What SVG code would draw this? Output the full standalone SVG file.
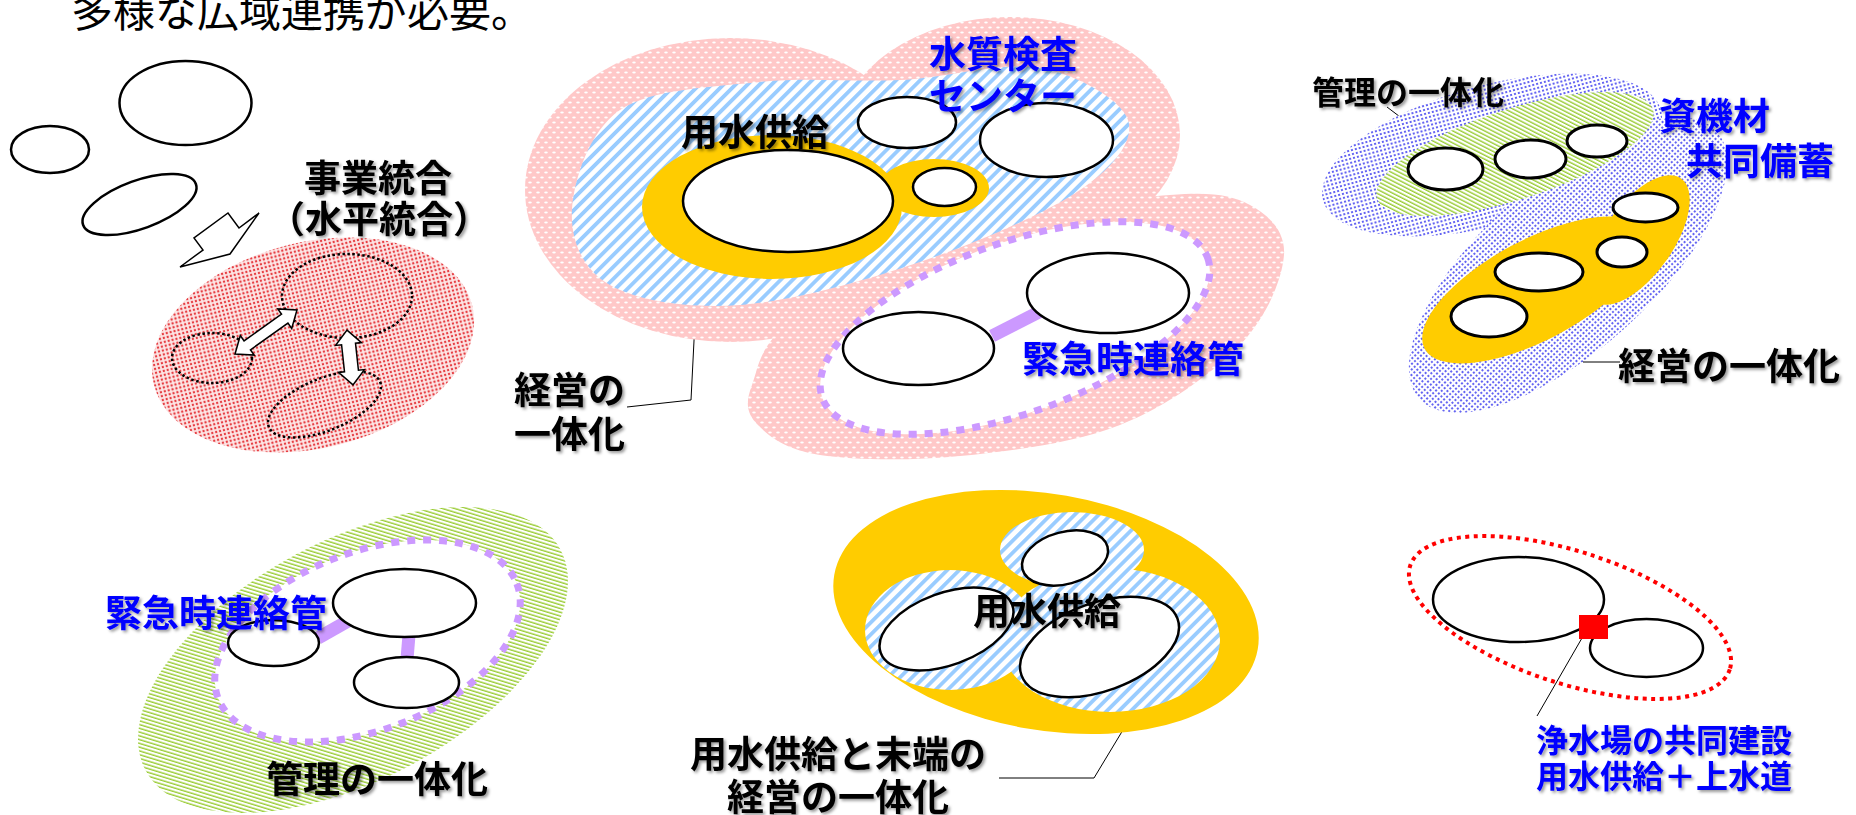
<svg xmlns="http://www.w3.org/2000/svg" width="1856" height="815" viewBox="0 0 1856 815">
<defs>
<pattern id="pink" width="8" height="10" patternUnits="userSpaceOnUse"><rect width="8" height="10" fill="#ffc8c8"/><ellipse cx="2" cy="2.5" rx="1.8" ry="0.9" fill="#fff"/><ellipse cx="6" cy="7.5" rx="1.8" ry="0.9" fill="#fff"/></pattern>
<pattern id="bstripe" width="8.5" height="8.5" patternUnits="userSpaceOnUse" patternTransform="rotate(45)"><rect width="8.5" height="8.5" fill="#fff"/><rect width="3.8" height="8.5" fill="#99ccff"/></pattern>
<pattern id="gstripe" width="3.6" height="3.6" patternUnits="userSpaceOnUse" patternTransform="rotate(-45)"><rect width="3.6" height="3.6" fill="#fff"/><rect width="1.4" height="3.6" fill="#99cc33"/></pattern>
<pattern id="rdot" width="4" height="4" patternUnits="userSpaceOnUse"><rect width="4" height="4" fill="#fde6e6"/><circle cx="2" cy="2" r="1.2" fill="#e63a3f"/></pattern>
<pattern id="bdot" width="4" height="4" patternUnits="userSpaceOnUse"><rect width="4" height="4" fill="#fff"/><circle cx="2" cy="2" r="1.05" fill="#3b3bef"/></pattern>
<filter id="sh" x="-5%" y="-15%" width="115%" height="140%"><feDropShadow dx="2" dy="2" stdDeviation="1.5" flood-color="#000" flood-opacity="0.4"/></filter>
<style>
.e{fill:#fff;stroke:#000;stroke-width:2.5}
.e3{fill:#fff;stroke:#000;stroke-width:3}
.lbl{font-family:"Noto Sans CJK JP","Noto Sans CJK SC",sans-serif;font-weight:700;font-size:37px;filter:url(#sh)}
.blk{fill:#000}
.blu{fill:#0000ff}
.lead{fill:none;stroke:#000;stroke-width:1}
.pdash{fill:#fff;stroke:#cc99ff;stroke-width:7;stroke-dasharray:8 8}
.pipe{stroke:#cc99ff;stroke-width:13}
.dot{fill:none;stroke:#000;stroke-width:2.5;stroke-dasharray:2.5 2.5}
.yel{fill:#ffcc00}
</style>
</defs>
<rect width="1856" height="815" fill="#fff"/>

<g id="title">
<text x="71" y="27" font-family="Noto Sans CJK JP, sans-serif" font-size="42" fill="#000">多様な広域連携が必要。</text>
</g>

<g id="n-separate">
<ellipse class="e" cx="185.5" cy="103" rx="66" ry="42"/>
<ellipse class="e" cx="50" cy="149.5" rx="39" ry="23.5"/>
<ellipse class="e" cx="139.5" cy="204.5" rx="60" ry="24" transform="rotate(-20 139.5 204.5)"/>
</g>

<g id="connectors">
<polygon points="180,267 203,250 194,238 228,213 239,228 259,213 230,254" fill="#fff" stroke="#000" stroke-width="1.5"/>
<polyline class="lead" points="627,407 691,400 699,242"/>
<polyline class="lead" points="1387,107 1420,132"/>
<polyline class="lead" points="1558,305 1583,362 1620,362"/>
<polyline class="lead" points="1132,715 1094,778 999,778"/>
<line class="lead" x1="1582" y1="638" x2="1537" y2="716"/>
</g>

<g id="n-merge">
<ellipse cx="313" cy="345" rx="164" ry="103" transform="rotate(-14 313 345)" fill="url(#rdot)"/>
<ellipse class="dot" cx="347" cy="296" rx="65" ry="42"/>
<ellipse class="dot" cx="212" cy="358" rx="40" ry="25"/>
<ellipse class="dot" cx="324.5" cy="404.5" rx="60" ry="26" transform="rotate(-22 324.5 404.5)"/>
<polygon points="-38,0 -23,-12 -23,-5.5 23,-5.5 23,-12 38,0 23,12 23,5.5 -23,5.5 -23,12" transform="translate(266 332) rotate(-35.4)" fill="#fff" stroke="#000" stroke-width="1.5"/>
<polygon points="-27.6,0 -13.6,-13 -13.6,-7 13.6,-7 13.6,-13 27.6,0 13.6,13 13.6,7 -13.6,7 -13.6,13" transform="translate(350 357.5) rotate(83.8)" fill="#fff" stroke="#000" stroke-width="1.5"/>
<text class="lbl blk" x="378" y="192" text-anchor="middle">事業統合</text>
<text class="lbl blk" x="379" y="233" text-anchor="middle">（水平統合）</text>
</g>

<g id="n-center">
<ellipse cx="730" cy="190" rx="205" ry="152" fill="url(#pink)"/>
<ellipse cx="1010" cy="135" rx="170" ry="118" fill="url(#pink)"/>
<path fill="url(#pink)" d="M752,385 C759,366.7 758.7,341.7 800,315 C841.3,288.3 938.3,245 1000,225 C1061.7,205 1128.3,198.3 1170,195 C1211.7,191.7 1231,195 1250,205 C1269,215 1285.7,231.7 1284,255 C1282.3,278.3 1267.3,316.7 1240,345 C1212.7,373.3 1166.7,406.5 1120,425 C1073.3,443.5 1010,451 960,456 C910,461 853.7,460.2 820,455 C786.3,449.8 769.3,436.7 758,425 C746.7,413.3 745,403.3 752,385 Z"/>
<path fill="url(#bstripe)" d="M572,210 C573.7,180.8 588.7,131.3 620,110 C651.3,88.7 713.3,87 760,82 C806.7,77 853.3,82.3 900,80 C946.7,77.7 1002,61.3 1040,68 C1078,74.7 1121.3,99.7 1128,120 C1134.7,140.3 1114.7,166.3 1080,190 C1045.3,213.7 976.7,242.8 920,262 C863.3,281.2 791.7,301.2 740,305 C688.3,308.8 638,300.8 610,285 C582,269.2 570.3,239.2 572,210 Z"/>
<ellipse class="yel" cx="772" cy="207" rx="130" ry="72"/>
<ellipse class="yel" cx="934" cy="188" rx="55" ry="29"/>
<ellipse class="pdash" cx="1015" cy="328" rx="205" ry="85" transform="rotate(-20 1015 328)"/>
<ellipse class="e" cx="788" cy="201" rx="105" ry="51"/>
<ellipse class="e" cx="944.5" cy="187" rx="31.5" ry="19"/>
<ellipse class="e" cx="907" cy="122.5" rx="49" ry="25.5"/>
<ellipse class="e" cx="1046.5" cy="140" rx="66.5" ry="37"/>
<line class="pipe" x1="992" y1="336" x2="1041" y2="311"/>
<ellipse class="e" cx="1108" cy="293" rx="81" ry="40"/>
<ellipse class="e" cx="918.5" cy="348.5" rx="75.5" ry="36.5"/>
<text class="lbl blk" x="755" y="146" text-anchor="middle">用水供給</text>
<text class="lbl blu" x="1003" y="68" text-anchor="middle">水質検査</text>
<text class="lbl blu" x="1003" y="110" text-anchor="middle">センター</text>
<text class="lbl blu" x="1133" y="373" text-anchor="middle">緊急時連絡管</text>
<text class="lbl blk" x="514" y="404">経営の</text>
<text class="lbl blk" x="514" y="448">一体化</text>
</g>

<g id="n-stock">
<ellipse cx="1492" cy="155" rx="175" ry="70" transform="rotate(-15 1492 155)" fill="url(#bdot)"/>
<ellipse cx="1568" cy="265" rx="200" ry="85" transform="rotate(-42 1568 265)" fill="url(#bdot)"/>
<ellipse cx="1515" cy="154" rx="145" ry="45" transform="rotate(-18 1515 154)" fill="url(#gstripe)"/>
<ellipse class="yel" cx="1535" cy="290" rx="125" ry="50" transform="rotate(-28 1535 290)"/>
<ellipse class="yel" cx="1638" cy="240" rx="75" ry="35" transform="rotate(-55 1638 240)"/>
<ellipse class="e3" cx="1445.5" cy="169" rx="37.5" ry="21"/>
<ellipse class="e3" cx="1530.5" cy="159" rx="35.5" ry="19"/>
<ellipse class="e3" cx="1597" cy="141" rx="30" ry="16"/>
<ellipse class="e3" cx="1645.5" cy="207.5" rx="32.5" ry="14.5"/>
<ellipse class="e3" cx="1622" cy="252" rx="25" ry="15"/>
<ellipse class="e3" cx="1539" cy="272" rx="44" ry="19"/>
<ellipse class="e3" cx="1489" cy="316.5" rx="38" ry="20.5"/>
<text class="lbl blk" x="1312" y="104" style="font-size:32px">管理の一体化</text>
<text class="lbl blu" x="1659" y="130">資機材</text>
<text class="lbl blu" x="1686" y="175">共同備蓄</text>
<text class="lbl blk" x="1618" y="380">経営の一体化</text>
</g>

<g id="n-manage">
<ellipse cx="353" cy="660" rx="235" ry="120" transform="rotate(-28 353 660)" fill="url(#gstripe)"/>
<ellipse class="pdash" cx="367.5" cy="641" rx="160" ry="89" transform="rotate(-21 367.5 641)"/>
<line class="pipe" x1="318" y1="638" x2="348" y2="621"/>
<line class="pipe" x1="409" y1="635" x2="407" y2="659"/>
<ellipse class="e" cx="404.5" cy="603" rx="71.5" ry="34"/>
<ellipse class="e" cx="273.5" cy="643" rx="45.5" ry="23"/>
<ellipse class="e" cx="406.5" cy="682.5" rx="52.5" ry="25.5"/>
<text class="lbl blu" x="105" y="627">緊急時連絡管</text>
<text class="lbl blk" x="266" y="793">管理の一体化</text>
</g>

<g id="n-vertical">
<ellipse class="yel" cx="1046" cy="612" rx="215" ry="118" transform="rotate(10 1046 612)"/>
<ellipse cx="950" cy="630" rx="85" ry="60" fill="url(#bstripe)"/>
<ellipse cx="1072" cy="550" rx="72" ry="38" fill="url(#bstripe)"/>
<ellipse cx="1110" cy="640" rx="110" ry="72" fill="url(#bstripe)"/>
<ellipse class="e" cx="1065" cy="558" rx="44" ry="26" transform="rotate(-15 1065 558)"/>
<ellipse class="e" cx="946.5" cy="629" rx="70" ry="36" transform="rotate(-20 946.5 629)"/>
<ellipse class="e" cx="1099.5" cy="647" rx="83" ry="44" transform="rotate(-20 1099.5 647)"/>
<text class="lbl blk" x="1047" y="625" text-anchor="middle">用水供給</text>
<text class="lbl blk" x="838" y="768" text-anchor="middle">用水供給と末端の</text>
<text class="lbl blk" x="838" y="811" text-anchor="middle">経営の一体化</text>
</g>

<g id="n-plant">
<ellipse cx="1570" cy="617.5" rx="168" ry="66" transform="rotate(18 1570 617.5)" fill="none" stroke="#ff0000" stroke-width="4" stroke-dasharray="4 4.5"/>
<ellipse class="e" cx="1518.5" cy="599.5" rx="85.5" ry="42.5"/>
<ellipse class="e" cx="1646.5" cy="648" rx="56.5" ry="29"/>
<rect x="1579" y="615" width="29" height="24" fill="#ff0000"/>
<text class="lbl blu" x="1536" y="752" style="font-size:32px">浄水場の共同建設</text>
<text class="lbl blu" x="1536" y="788" style="font-size:32px">用水供給＋上水道</text>
</g>
</svg>
